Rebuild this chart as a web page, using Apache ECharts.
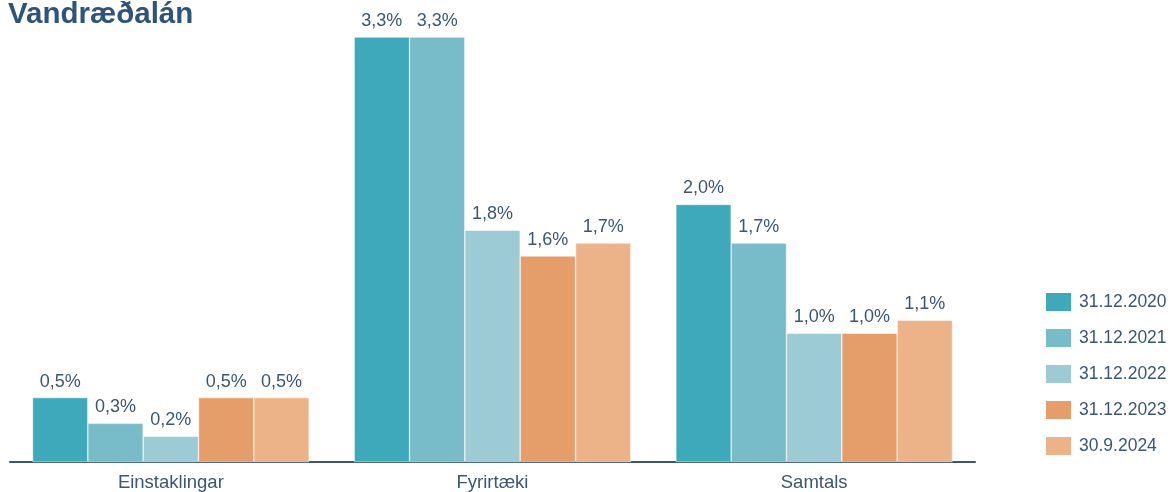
<!DOCTYPE html>
<html><head><meta charset="utf-8">
<script src="https://cdn.jsdelivr.net/npm/echarts@6/dist/echarts.min.js"></script>
<style>html,body{margin:0;padding:0;background:#fff}#c{width:1176px;height:492px}</style>
</head><body><div id="c"></div>
<script>
const categories = ['Einstaklingar', 'Fyrirtæki', 'Samtals'];
const seriesNames = ['31.12.2020', '31.12.2021', '31.12.2022', '31.12.2023', '30.9.2024'];
const s2020 = [0.5, 3.3, 2.0];
const s2021 = [0.3, 3.3, 1.7];
const s2022 = [0.2, 1.8, 1.0];
const s2023 = [0.5, 1.6, 1.0];
const s2024 = [0.5, 1.7, 1.1];
const seriesValues = [s2020, s2021, s2022, s2023, s2024];
const colors = ['#3ea9ba', '#77bcc8', '#9ccbd5', '#e59d69', '#ecb388'];
const textColor = '#3b5775';

const chart = echarts.init(document.getElementById('c'));
chart.setOption({
  animation: false,
  title: { text: 'Vandræðalán', left: 3, top: -5,
    textStyle: { fontFamily: 'Liberation Sans, Arial', fontWeight: 'bold', fontSize: 29.5, color: '#2f5479' } },
  legend: {
    orient: 'vertical', left: 1039, top: 286, itemWidth: 27, itemHeight: 20, itemGap: 14,
    icon: 'rect',
    textStyle: { fontFamily: 'Liberation Sans, Arial', fontSize: 17.5, color: textColor, padding: [0,0,0,2], lineHeight: 20 },
    data: seriesNames
  },
  grid: { left: 10, right: 201, top: 37, bottom: 30, containLabel: false },
  xAxis: {
    type: 'category', data: categories,
    axisLine: { lineStyle: { color: textColor, width: 2 } },
    axisTick: { show: false },
    axisLabel: { fontFamily: 'Liberation Sans, Arial', fontSize: 18.5, color: textColor, margin: 11 }
  },
  yAxis: { type: 'value', min: 0, max: 3.3, show: false, splitLine: { show: false } },
  series: seriesNames.map((n, i) => ({
    name: n, type: 'bar', data: seriesValues[i],
    barGap: '0%', barCategoryGap: '14%',
    itemStyle: { color: colors[i], borderColor: '#ffffff', borderWidth: 0.5 },
    label: { show: true, position: 'top', distance: 7,
      fontFamily: 'Liberation Sans, Arial', fontSize: 18, color: textColor,
      formatter: p => p.value.toFixed(1).replace('.', ',') + '%' }
  }))
});
</script></body></html>
